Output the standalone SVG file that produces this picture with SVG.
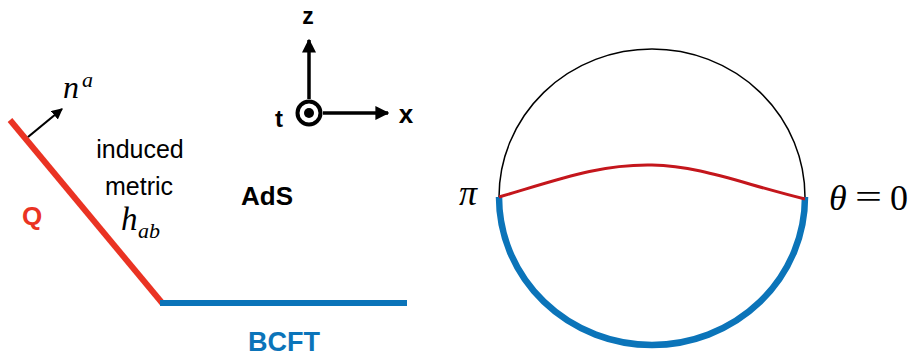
<svg xmlns="http://www.w3.org/2000/svg" width="917" height="356" viewBox="0 0 917 356">
<defs>
<marker id="ah" viewBox="0 0 10 10" refX="9" refY="5" markerWidth="4" markerHeight="4" markerUnits="strokeWidth" orient="auto"><path d="M0,0 L10,5 L0,10 z" fill="#000"/></marker>
<marker id="ahs" viewBox="0 0 10 10" refX="9" refY="5" markerWidth="5" markerHeight="5" markerUnits="strokeWidth" orient="auto"><path d="M0,0 L10,5 L0,10 z" fill="#000"/></marker>
<style>
.sans{font-family:"Liberation Sans",Arial,sans-serif}
.b{font-weight:bold}
.math{font-family:"Liberation Serif","Times New Roman",serif;font-style:italic}
.rm{font-family:"Liberation Serif","Times New Roman",serif}
</style>
</defs>
<rect width="917" height="356" fill="#fff"/>
<g id="left">
<g id="Q"><line x1="10" y1="120" x2="163" y2="304" stroke="#ea3323" stroke-width="6"/>
<text x="22" y="225" class="sans b" font-size="26" fill="#ea3323">Q</text></g>
<g id="BCFT"><line x1="160" y1="303" x2="407" y2="303" stroke="#0b74b9" stroke-width="6"/>
<text x="284" y="351" class="sans b" font-size="27" fill="#0b74b9" text-anchor="middle">BCFT</text></g>
<g id="normal"><line x1="28" y1="137" x2="62" y2="109" stroke="#000" stroke-width="2.2" marker-end="url(#ahs)"/>
<text x="63" y="98" class="math" font-size="32">n</text><text x="82" y="87" class="math" font-size="22">a</text></g>
<g id="metric">
<text x="140" y="158" class="sans" font-size="25" text-anchor="middle">induced</text>
<text x="139" y="195" class="sans" font-size="25" text-anchor="middle">metric</text>
<text x="121" y="230" class="math" font-size="33">h</text><text x="138" y="238" class="math" font-size="22">ab</text>
</g>
<text x="267" y="205" class="sans b" font-size="26" text-anchor="middle">AdS</text>
</g>
<g id="axes">
<line x1="309" y1="99" x2="309" y2="40" stroke="#000" stroke-width="3.5" marker-end="url(#ah)"/>
<line x1="323" y1="113" x2="388" y2="113" stroke="#000" stroke-width="3.5" marker-end="url(#ah)"/>
<circle cx="309" cy="113" r="11.5" fill="#fff" stroke="#000" stroke-width="4"/>
<circle cx="309" cy="113" r="5" fill="#000"/>
<text x="308" y="24" class="sans b" font-size="23" text-anchor="middle">z</text>
<text x="279" y="127" class="sans b" font-size="24" text-anchor="middle">t</text>
<text x="406" y="123" class="sans b" font-size="26" text-anchor="middle">x</text>
</g>
<g id="disk">
<ellipse cx="652" cy="197" rx="153" ry="148" fill="none" stroke="#000" stroke-width="1.5"/>
<path d="M499,197 A153,148 0 0 0 805,197" fill="none" stroke="#0b74b9" stroke-width="6.5"/>
<path d="M499,197 C560,179 600,164 652,165 C700,166 740,183 805,199" fill="none" stroke="#c4161c" stroke-width="3"/>
<text x="459" y="205" class="math" font-size="36">π</text>
<text x="829" y="210" class="math" font-size="36">θ</text>
<text x="855" y="208" class="rm" font-size="34" textLength="27" lengthAdjust="spacingAndGlyphs">=</text>
<text x="890" y="210" class="rm" font-size="36">0</text>
</g>
</svg>
